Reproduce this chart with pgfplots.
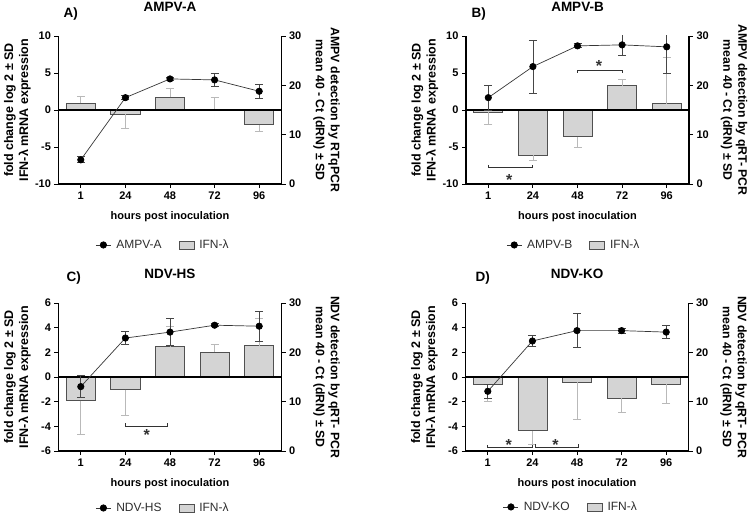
\documentclass[border=0pt]{standalone}
\usepackage{fontspec}
\setmainfont{Liberation Sans}
\usepackage{pgfplots}
\pgfplotsset{compat=1.18}

\definecolor{barfill}{RGB}{212,212,212}
\definecolor{bardraw}{RGB}{80,80,80}
\definecolor{errgray}{RGB}{185,185,185}
\definecolor{errdark}{RGB}{70,70,70}
\definecolor{linegray}{RGB}{55,55,55}
\definecolor{legtext}{RGB}{45,45,45}
\definecolor{bracketcol}{RGB}{50,50,50}

\tikzset{sigstar/.style={font=\fontsize{16}{17}\selectfont\bfseries, yshift=-3.4pt, text=bracketcol}}

\pgfplotsset{
  basestyle/.style={
    scale only axis, width=223pt, height=148pt,
    xmin=-0.5, xmax=4.5,
    tick align=outside, major tick length=4pt,
    every tick/.style={black, line width=0.9pt},
    axis line style={black, line width=1.1pt},
    ticklabel style={font=\fontsize{11}{13}\selectfont\bfseries},
    /pgf/number format/assume math mode=true,
  },
  leftstyle/.style={
    basestyle,
    axis y line*=left, axis x line*=bottom,
    xtick={0,1,2,3,4}, xticklabels={1,24,48,72,96},
    xlabel={hours post inoculation},
    xlabel style={font=\fontsize{11}{13}\selectfont\bfseries, at={(axis description cs:0.5,0)}, anchor=center, yshift=-33pt},
    ylabel={fold change log 2 ± SD\\IFN-λ mRNA expression},
    ylabel style={font=\fontsize{12.5}{15}\selectfont\bfseries, align=center, at={(axis description cs:-0.184,0.5)}, anchor=center},
    title style={font=\fontsize{13.5}{16}\selectfont\bfseries, at={(axis description cs:0.5,1)}, anchor=center, yshift=23pt},
  },
  rightstyle/.style={
    basestyle,
    axis y line*=right, hide x axis,
    ymin=0, ymax=30, ytick={0,10,20,30},
    ylabel style={font=\fontsize{12.3}{15}\selectfont\bfseries, align=center, at={(axis description cs:1.202,0.5)}, anchor=center, rotate=180},
    legend columns=2,
    legend style={draw=none, fill=none, font=\fontsize{12}{14}\selectfont, text=legtext, anchor=center,
      /tikz/every odd column/.append style={column sep=3pt},
      /tikz/every even column/.append style={column sep=15pt}},
  },
  barplot/.style={ybar, bar width=29pt, bar shift=0pt, fill=barfill, draw=bardraw, line width=0.8pt},
  errplus/.style={draw=none, mark=none, forget plot,
    error bars/y dir=plus, error bars/y explicit,
    error bars/error bar style={draw=errgray, line width=0.8pt},
    error bars/error mark options={rotate=90, mark size=4pt, draw=errgray, line width=0.8pt}},
  errminus/.style={draw=none, mark=none, forget plot,
    error bars/y dir=minus, error bars/y explicit,
    error bars/error bar style={draw=errgray, line width=0.8pt},
    error bars/error mark options={rotate=90, mark size=4pt, draw=errgray, line width=0.8pt}},
  virusline/.style={linegray, line width=0.7pt, mark=*, mark size=3.2pt,
    mark options={fill=black, draw=black, solid},
    legend image code/.code={\draw[mark repeat=2, mark phase=2, ##1] plot coordinates {(0pt,0pt) (7.5pt,0pt) (15pt,0pt)};},
    error bars/y dir=both, error bars/y explicit,
    error bars/error bar style={errdark, line width=0.8pt},
    error bars/error mark options={rotate=90, mark size=4pt, errdark, line width=0.8pt}},
  barlegend/.style={legend image code/.code={\draw[fill=barfill, draw=bardraw, line width=0.7pt] (0pt,-4pt) rectangle (15pt,4pt);}},
}

\begin{document}
\begin{tikzpicture}
\useasboundingbox (0,0) rectangle (755pt,520pt);

% ---------------- Panel A ----------------
\begin{axis}[leftstyle, at={(58.5pt,336pt)}, anchor=south west,
  ymin=-10, ymax=10, ytick={-10,-5,0,5,10}, title={AMPV-A}]
  \addplot[barplot] coordinates {(0,0.9) (1,-0.6) (2,1.7) (3,0) (4,-2.0)};
  \addplot[errplus] coordinates {(0,0.9) +- (0,0.9) (2,1.7) +- (0,1.2) (3,0) +- (0,1.7)};
  \addplot[errminus] coordinates {(1,-0.6) +- (0,1.85) (4,-2.0) +- (0,0.9)};
  \draw[black, line width=1.1pt] (axis cs:-0.5,0) -- (axis cs:4.5,0);
\end{axis}
\begin{axis}[rightstyle, at={(58.5pt,336pt)}, anchor=south west,
  ylabel={AMPV detection by RTqPCR\\mean 40 - Ct (dRN) ± SD},
  legend style={at={(0.469,-0.412)}}]
  \addplot[virusline] coordinates {(0,4.9) +- (0,0.6) (1,17.5) +- (0,0.4) (2,21.3) +- (0,0.4) (3,21.1) +- (0,1.4) (4,18.8) +- (0,1.4)};
  \addlegendentry{AMPV-A}
  \addlegendimage{barlegend}
  \addlegendentry{IFN-λ}
\end{axis}

% ---------------- Panel B ----------------
\begin{axis}[leftstyle, at={(466pt,336pt)}, anchor=south west,
  ymin=-10, ymax=10, ytick={-10,-5,0,5,10}, title={AMPV-B}]
  \addplot[barplot] coordinates {(0,-0.3) (1,-6.07) (2,-3.6) (3,3.3) (4,0.85)};
  \addplot[errminus] coordinates {(0,-0.3) +- (0,1.6) (1,-6.07) +- (0,0.75) (2,-3.6) +- (0,1.4)};
  \addplot[errplus] coordinates {(3,3.3) +- (0,0.8) (4,0.85) +- (0,6.3)};
  \draw[black, line width=1.1pt] (axis cs:-0.5,0) -- (axis cs:4.5,0);
  \draw[bracketcol, line width=1pt] (axis cs:0,-7.4) -- (axis cs:0,-7.8) -- (axis cs:1,-7.8) -- (axis cs:1,-7.4);
  \node[sigstar] at (axis cs:0.47,-8.95) {*};
  \draw[bracketcol, line width=1pt] (axis cs:2,5.0) -- (axis cs:2,5.4) -- (axis cs:3,5.4) -- (axis cs:3,5.0);
  \node[sigstar] at (axis cs:2.48,6.4) {*};
\end{axis}
\begin{axis}[rightstyle, at={(466pt,336pt)}, anchor=south west,
  ylabel={AMPV detection by qRT- PCR\\mean 40 - Ct (dRN) ± SD},
  legend style={at={(0.484,-0.412)}}]
  \addplot[virusline] coordinates {(0,17.5) +- (0,2.5) (1,23.8) +- (0,5.4) (2,28.0) +- (0,0.4) (3,28.2) +- (0,2.2) (4,27.8) +- (0,5.4)};
  \addlegendentry{AMPV-B}
  \addlegendimage{barlegend}
  \addlegendentry{IFN-λ}
\end{axis}

% ---------------- Panel C ----------------
\begin{axis}[leftstyle, at={(58.5pt,69pt)}, anchor=south west,
  ymin=-6, ymax=6, ytick={-6,-4,-2,0,2,4,6}, title={NDV-HS}]
  \addplot[barplot] coordinates {(0,-1.92) (1,-1.03) (2,2.45) (3,2.02) (4,2.54)};
  \addplot[errminus] coordinates {(0,-1.92) +- (0,2.73) (1,-1.03) +- (0,2.07)};
  \addplot[errplus] coordinates {(2,2.45) +- (0,1.65) (3,2.02) +- (0,0.6) (4,2.54) +- (0,2.2)};
  \draw[black, line width=1.1pt] (axis cs:-0.5,0) -- (axis cs:4.5,0);
  \draw[bracketcol, line width=1pt] (axis cs:1,-3.75) -- (axis cs:1,-4.0) -- (axis cs:1.95,-4.0) -- (axis cs:1.95,-3.75);
  \node[sigstar] at (axis cs:1.48,-4.45) {*};
\end{axis}
\begin{axis}[rightstyle, at={(58.5pt,69pt)}, anchor=south west,
  ylabel={NDV detection by qRT- PCR\\mean 40 - Ct (dRN) ± SD},
  legend style={at={(0.469,-0.385)}}]
  \addplot[virusline] coordinates {(0,13.05) +- (0,2.2) (1,22.9) +- (0,1.3) (2,24.1) +- (0,2.7) (3,25.5) +- (0,0.3) (4,25.3) +- (0,3.0)};
  \addlegendentry{NDV-HS}
  \addlegendimage{barlegend}
  \addlegendentry{IFN-λ}
\end{axis}

% ---------------- Panel D ----------------
\begin{axis}[leftstyle, at={(465.5pt,69pt)}, anchor=south west,
  ymin=-6, ymax=6, ytick={-6,-4,-2,0,2,4,6}, title={NDV-KO}]
  \addplot[barplot] coordinates {(0,-0.59) (1,-4.37) (2,-0.42) (3,-1.72) (4,-0.59)};
  \addplot[errminus] coordinates {(0,-0.59) +- (0,1.4) (1,-4.37) +- (0,1.07) (2,-0.42) +- (0,3.05) (3,-1.72) +- (0,1.16) (4,-0.59) +- (0,1.53)};
  \draw[black, line width=1.1pt] (axis cs:-0.5,0) -- (axis cs:4.5,0);
  \draw[bracketcol, line width=1pt] (axis cs:0,-5.5) -- (axis cs:0,-5.75) -- (axis cs:1,-5.75) -- (axis cs:1,-5.5);
  \node[sigstar] at (axis cs:0.47,-5.25) {*};
  \draw[bracketcol, line width=1pt] (axis cs:1.08,-5.45) -- (axis cs:1.08,-5.7) -- (axis cs:2.03,-5.7) -- (axis cs:2.03,-5.45);
  \node[sigstar] at (axis cs:1.52,-5.25) {*};
\end{axis}
\begin{axis}[rightstyle, at={(465.5pt,69pt)}, anchor=south west,
  ylabel={NDV detection by qRT- PCR\\mean 40 - Ct (dRN) ± SD},
  legend style={at={(0.473,-0.378)}}]
  \addplot[virusline] coordinates {(0,12.1) +- (0,1.35) (1,22.3) +- (0,1.15) (2,24.4) +- (0,3.4) (3,24.4) +- (0,0.5) (4,24.1) +- (0,1.3)};
  \addlegendentry{NDV-KO}
  \addlegendimage{barlegend}
  \addlegendentry{IFN-λ}
\end{axis}

% panel letters
\node[anchor=west, font=\fontsize{13.5}{16}\selectfont\bfseries] at (60pt,506pt) {A)};
\node[anchor=west, font=\fontsize{13.5}{16}\selectfont\bfseries] at (468pt,506pt) {B)};
\node[anchor=west, font=\fontsize{13.5}{16}\selectfont\bfseries] at (63pt,242pt) {C)};
\node[anchor=west, font=\fontsize{13.5}{16}\selectfont\bfseries] at (472pt,242pt) {D)};
\end{tikzpicture}
\end{document}
